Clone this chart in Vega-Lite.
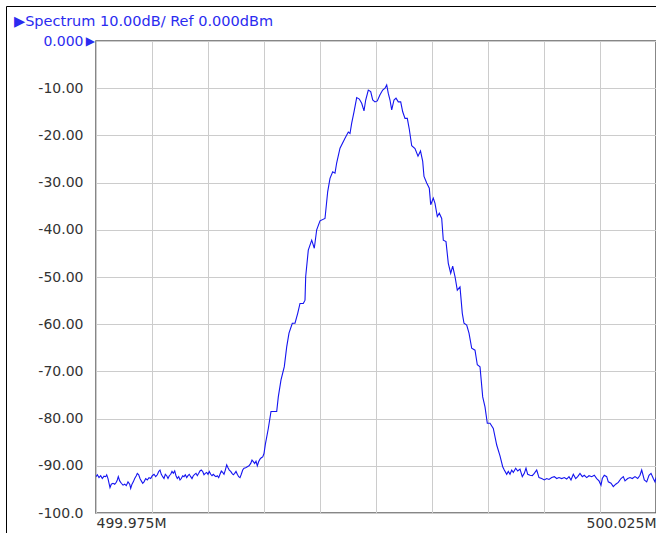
{
  "$schema": "https://vega.github.io/schema/vega-lite/v6.json",
  "width": 560,
  "height": 472,
  "autosize": {"type": "none"},
  "padding": {"left": 96, "top": 41, "right": 0, "bottom": 20},
  "background": "white",
  "title": {
    "text": "▶Spectrum 10.00dB/ Ref 0.000dBm",
    "anchor": "start",
    "frame": "group",
    "dx": -82,
    "dy": 50,
    "offset": 16,
    "baseline": "alphabetic",
    "font": "DejaVu Sans",
    "fontSize": 14.5,
    "fontWeight": "normal",
    "color": "#2b2bf0"
  },
  "config": {
    "view": {"stroke": "#606060", "strokeWidth": 1.5},
    "axis": {
      "domain": false,
      "ticks": false,
      "gridColor": "#cccccc",
      "gridWidth": 1,
      "gridOpacity": 1,
      "labelFont": "DejaVu Sans",
      "labelFontSize": 14,
      "labelColor": "#333333",
      "title": null
    }
  },
  "datasets": {
    "trace": [
      {"freq": 499.975000, "level": -92.3},
      {"freq": 499.975116, "level": -91.9},
      {"freq": 499.975268, "level": -92.5},
      {"freq": 499.975420, "level": -92.1},
      {"freq": 499.975563, "level": -92.7},
      {"freq": 499.975714, "level": -92.2},
      {"freq": 499.975866, "level": -92.3},
      {"freq": 499.975955, "level": -91.9},
      {"freq": 499.976071, "level": -92.7},
      {"freq": 499.976250, "level": -94.6},
      {"freq": 499.976366, "level": -93.9},
      {"freq": 499.976518, "level": -93.7},
      {"freq": 499.976670, "level": -93.9},
      {"freq": 499.976813, "level": -93.5},
      {"freq": 499.976902, "level": -93.0},
      {"freq": 499.976991, "level": -92.3},
      {"freq": 499.977116, "level": -93.2},
      {"freq": 499.977259, "level": -93.7},
      {"freq": 499.977411, "level": -94.1},
      {"freq": 499.977563, "level": -93.9},
      {"freq": 499.977705, "level": -94.2},
      {"freq": 499.977857, "level": -93.4},
      {"freq": 499.978009, "level": -93.9},
      {"freq": 499.978098, "level": -94.8},
      {"freq": 499.978214, "level": -93.9},
      {"freq": 499.978330, "level": -93.4},
      {"freq": 499.978455, "level": -92.7},
      {"freq": 499.978598, "level": -92.1},
      {"freq": 499.978688, "level": -91.6},
      {"freq": 499.978813, "level": -91.9},
      {"freq": 499.978929, "level": -92.7},
      {"freq": 499.979045, "level": -93.2},
      {"freq": 499.979170, "level": -93.7},
      {"freq": 499.979286, "level": -93.4},
      {"freq": 499.979438, "level": -92.7},
      {"freq": 499.979580, "level": -93.0},
      {"freq": 499.979732, "level": -92.5},
      {"freq": 499.979884, "level": -92.7},
      {"freq": 499.980027, "level": -92.1},
      {"freq": 499.980179, "level": -91.8},
      {"freq": 499.980330, "level": -92.3},
      {"freq": 499.980473, "level": -91.9},
      {"freq": 499.980598, "level": -91.2},
      {"freq": 499.980714, "level": -90.9},
      {"freq": 499.980830, "level": -91.8},
      {"freq": 499.980955, "level": -92.3},
      {"freq": 499.981071, "level": -92.7},
      {"freq": 499.981188, "level": -91.8},
      {"freq": 499.981313, "level": -92.1},
      {"freq": 499.981429, "level": -92.7},
      {"freq": 499.981545, "level": -92.1},
      {"freq": 499.981670, "level": -91.8},
      {"freq": 499.981786, "level": -91.2},
      {"freq": 499.981902, "level": -91.6},
      {"freq": 499.982027, "level": -91.1},
      {"freq": 499.982143, "level": -92.1},
      {"freq": 499.982259, "level": -92.7},
      {"freq": 499.982384, "level": -92.3},
      {"freq": 499.982500, "level": -93.0},
      {"freq": 499.982616, "level": -92.7},
      {"freq": 499.982741, "level": -92.1},
      {"freq": 499.982857, "level": -92.3},
      {"freq": 499.982973, "level": -91.9},
      {"freq": 499.983098, "level": -92.5},
      {"freq": 499.983214, "level": -92.1},
      {"freq": 499.983330, "level": -91.8},
      {"freq": 499.983455, "level": -92.3},
      {"freq": 499.983571, "level": -92.7},
      {"freq": 499.983688, "level": -92.1},
      {"freq": 499.983813, "level": -91.8},
      {"freq": 499.983929, "level": -91.6},
      {"freq": 499.984045, "level": -92.1},
      {"freq": 499.984170, "level": -91.6},
      {"freq": 499.984286, "level": -91.1},
      {"freq": 499.984402, "level": -90.9},
      {"freq": 499.984527, "level": -91.2},
      {"freq": 499.984643, "level": -91.9},
      {"freq": 499.984759, "level": -91.6},
      {"freq": 499.984884, "level": -91.4},
      {"freq": 499.985000, "level": -91.8},
      {"freq": 499.985116, "level": -91.2},
      {"freq": 499.985241, "level": -91.8},
      {"freq": 499.985357, "level": -92.1},
      {"freq": 499.985473, "level": -91.8},
      {"freq": 499.985598, "level": -92.1},
      {"freq": 499.985714, "level": -92.3},
      {"freq": 499.985830, "level": -92.1},
      {"freq": 499.985955, "level": -92.5},
      {"freq": 499.986071, "level": -91.8},
      {"freq": 499.986188, "level": -91.1},
      {"freq": 499.986313, "level": -91.4},
      {"freq": 499.986429, "level": -91.8},
      {"freq": 499.986545, "level": -90.9},
      {"freq": 499.986670, "level": -89.8},
      {"freq": 499.986786, "level": -90.4},
      {"freq": 499.986902, "level": -90.9},
      {"freq": 499.987027, "level": -91.2},
      {"freq": 499.987143, "level": -91.6},
      {"freq": 499.987259, "level": -91.9},
      {"freq": 499.987384, "level": -91.6},
      {"freq": 499.987500, "level": -91.2},
      {"freq": 499.987616, "level": -91.8},
      {"freq": 499.987741, "level": -92.3},
      {"freq": 499.987857, "level": -92.5},
      {"freq": 499.987973, "level": -91.8},
      {"freq": 499.988098, "level": -90.9},
      {"freq": 499.988214, "level": -90.5},
      {"freq": 499.988366, "level": -90.4},
      {"freq": 499.988509, "level": -90.2},
      {"freq": 499.988661, "level": -90.0},
      {"freq": 499.988813, "level": -89.5},
      {"freq": 499.988929, "level": -88.8},
      {"freq": 499.989045, "level": -89.1},
      {"freq": 499.989170, "level": -89.5},
      {"freq": 499.989286, "level": -89.0},
      {"freq": 499.989402, "level": -90.0},
      {"freq": 499.989527, "level": -89.1},
      {"freq": 499.989643, "level": -88.6},
      {"freq": 499.989759, "level": -88.3},
      {"freq": 499.989884, "level": -88.1},
      {"freq": 499.990000, "level": -87.4},
      {"freq": 499.990116, "level": -85.5},
      {"freq": 499.990384, "level": -82.1},
      {"freq": 499.990625, "level": -78.5},
      {"freq": 499.991134, "level": -78.5},
      {"freq": 499.991277, "level": -75.4},
      {"freq": 499.991518, "level": -71.8},
      {"freq": 499.991813, "level": -69.0},
      {"freq": 499.992027, "level": -64.8},
      {"freq": 499.992232, "level": -61.9},
      {"freq": 499.992527, "level": -59.8},
      {"freq": 499.992768, "level": -59.8},
      {"freq": 499.993009, "level": -57.7},
      {"freq": 499.993214, "level": -55.6},
      {"freq": 499.993509, "level": -55.6},
      {"freq": 499.993661, "level": -54.9},
      {"freq": 499.993723, "level": -49.9},
      {"freq": 499.993955, "level": -44.3},
      {"freq": 499.994259, "level": -42.2},
      {"freq": 499.994491, "level": -43.9},
      {"freq": 499.994705, "level": -40.0},
      {"freq": 499.995000, "level": -38.1},
      {"freq": 499.995446, "level": -37.6},
      {"freq": 499.995688, "level": -31.9},
      {"freq": 499.995893, "level": -29.1},
      {"freq": 499.996134, "level": -27.7},
      {"freq": 499.996339, "level": -28.0},
      {"freq": 499.996491, "level": -25.8},
      {"freq": 499.996786, "level": -22.7},
      {"freq": 499.997232, "level": -20.6},
      {"freq": 499.997527, "level": -19.3},
      {"freq": 499.997679, "level": -19.6},
      {"freq": 499.997830, "level": -17.4},
      {"freq": 499.998036, "level": -15.0},
      {"freq": 499.998277, "level": -12.0},
      {"freq": 499.998509, "level": -12.3},
      {"freq": 499.998723, "level": -13.2},
      {"freq": 499.998929, "level": -14.8},
      {"freq": 499.999080, "level": -12.5},
      {"freq": 499.999313, "level": -10.4},
      {"freq": 499.999527, "level": -10.7},
      {"freq": 499.999705, "level": -12.5},
      {"freq": 499.999911, "level": -12.9},
      {"freq": 500.000116, "level": -12.7},
      {"freq": 500.000357, "level": -11.4},
      {"freq": 500.000598, "level": -10.4},
      {"freq": 500.000804, "level": -10.0},
      {"freq": 500.000955, "level": -9.3},
      {"freq": 500.001098, "level": -11.1},
      {"freq": 500.001250, "level": -12.5},
      {"freq": 500.001402, "level": -14.6},
      {"freq": 500.001607, "level": -12.5},
      {"freq": 500.001786, "level": -12.1},
      {"freq": 500.001991, "level": -12.9},
      {"freq": 500.002205, "level": -12.9},
      {"freq": 500.002384, "level": -15.0},
      {"freq": 500.002589, "level": -16.4},
      {"freq": 500.002795, "level": -16.4},
      {"freq": 500.002973, "level": -18.7},
      {"freq": 500.003188, "level": -22.2},
      {"freq": 500.003482, "level": -22.8},
      {"freq": 500.003750, "level": -24.4},
      {"freq": 500.003973, "level": -23.3},
      {"freq": 500.004170, "level": -25.5},
      {"freq": 500.004286, "level": -28.7},
      {"freq": 500.004527, "level": -30.1},
      {"freq": 500.004759, "level": -31.2},
      {"freq": 500.004884, "level": -34.7},
      {"freq": 500.005116, "level": -33.3},
      {"freq": 500.005268, "level": -34.4},
      {"freq": 500.005473, "level": -37.2},
      {"freq": 500.005652, "level": -36.5},
      {"freq": 500.005866, "level": -37.6},
      {"freq": 500.006009, "level": -42.2},
      {"freq": 500.006250, "level": -42.5},
      {"freq": 500.006455, "level": -47.1},
      {"freq": 500.006670, "level": -49.2},
      {"freq": 500.006848, "level": -47.7},
      {"freq": 500.007054, "level": -49.9},
      {"freq": 500.007259, "level": -52.8},
      {"freq": 500.007500, "level": -52.1},
      {"freq": 500.007705, "level": -57.7},
      {"freq": 500.007857, "level": -59.8},
      {"freq": 500.008098, "level": -60.2},
      {"freq": 500.008304, "level": -61.9},
      {"freq": 500.008545, "level": -65.1},
      {"freq": 500.008839, "level": -65.5},
      {"freq": 500.009045, "level": -68.6},
      {"freq": 500.009286, "level": -69.0},
      {"freq": 500.009527, "level": -75.4},
      {"freq": 500.009732, "level": -77.5},
      {"freq": 500.009938, "level": -81.0},
      {"freq": 500.010179, "level": -81.0},
      {"freq": 500.010473, "level": -82.1},
      {"freq": 500.010777, "level": -85.6},
      {"freq": 500.011071, "level": -87.9},
      {"freq": 500.011313, "level": -90.2},
      {"freq": 500.011455, "level": -90.9},
      {"freq": 500.011670, "level": -91.8},
      {"freq": 500.011813, "level": -91.2},
      {"freq": 500.011964, "level": -91.8},
      {"freq": 500.012116, "level": -90.9},
      {"freq": 500.012259, "level": -91.4},
      {"freq": 500.012473, "level": -90.5},
      {"freq": 500.012652, "level": -91.1},
      {"freq": 500.012857, "level": -90.7},
      {"freq": 500.013063, "level": -92.3},
      {"freq": 500.013241, "level": -91.6},
      {"freq": 500.013393, "level": -90.5},
      {"freq": 500.013545, "level": -91.8},
      {"freq": 500.013750, "level": -92.0},
      {"freq": 500.013955, "level": -92.1},
      {"freq": 500.014134, "level": -91.6},
      {"freq": 500.014348, "level": -90.9},
      {"freq": 500.014554, "level": -92.5},
      {"freq": 500.014795, "level": -92.7},
      {"freq": 500.015027, "level": -93.0},
      {"freq": 500.015241, "level": -92.7},
      {"freq": 500.015446, "level": -92.9},
      {"freq": 500.015688, "level": -92.5},
      {"freq": 500.015920, "level": -92.3},
      {"freq": 500.016134, "level": -92.7},
      {"freq": 500.016339, "level": -92.5},
      {"freq": 500.016580, "level": -92.7},
      {"freq": 500.016813, "level": -92.5},
      {"freq": 500.017027, "level": -92.8},
      {"freq": 500.017232, "level": -92.3},
      {"freq": 500.017411, "level": -93.0},
      {"freq": 500.017616, "level": -91.8},
      {"freq": 500.017830, "level": -92.7},
      {"freq": 500.018009, "level": -92.3},
      {"freq": 500.018214, "level": -91.6},
      {"freq": 500.018420, "level": -92.3},
      {"freq": 500.018598, "level": -92.0},
      {"freq": 500.018813, "level": -92.5},
      {"freq": 500.019018, "level": -92.1},
      {"freq": 500.019259, "level": -92.3},
      {"freq": 500.019491, "level": -92.0},
      {"freq": 500.019705, "level": -92.7},
      {"freq": 500.019911, "level": -93.2},
      {"freq": 500.020089, "level": -94.1},
      {"freq": 500.020205, "level": -92.7},
      {"freq": 500.020384, "level": -92.0},
      {"freq": 500.020598, "level": -92.3},
      {"freq": 500.020741, "level": -93.4},
      {"freq": 500.020982, "level": -93.7},
      {"freq": 500.021188, "level": -94.4},
      {"freq": 500.021402, "level": -93.9},
      {"freq": 500.021634, "level": -93.5},
      {"freq": 500.021875, "level": -92.7},
      {"freq": 500.022080, "level": -92.3},
      {"freq": 500.022232, "level": -93.2},
      {"freq": 500.022473, "level": -92.7},
      {"freq": 500.022679, "level": -92.5},
      {"freq": 500.022884, "level": -92.7},
      {"freq": 500.023125, "level": -92.3},
      {"freq": 500.023366, "level": -92.7},
      {"freq": 500.023571, "level": -92.0},
      {"freq": 500.023723, "level": -90.9},
      {"freq": 500.023955, "level": -93.0},
      {"freq": 500.024170, "level": -93.4},
      {"freq": 500.024375, "level": -92.0},
      {"freq": 500.024554, "level": -91.6},
      {"freq": 500.024759, "level": -92.7},
      {"freq": 500.024911, "level": -93.4},
      {"freq": 500.025000, "level": -92.5}
    ]
  },
  "layer": [
    {
      "data": {"name": "trace"},
      "mark": {"type": "line", "color": "#1414f0", "strokeWidth": 1.1, "clip": true},
      "encoding": {
        "x": {
          "field": "freq",
          "type": "quantitative",
          "scale": {"domain": [499.975, 500.025], "nice": false, "zero": false},
          "axis": {
            "values": [499.975, 499.98, 499.985, 499.99, 499.995, 500.0, 500.005, 500.01, 500.015, 500.02, 500.025],
            "labelExpr": "datum.value < 499.976 || datum.value > 500.024 ? format(datum.value, '.3f') + 'M' : ''",
            "labelFlush": true,
            "labelOverlap": false,
            "labelBound": false,
            "labelPadding": 3,
            "labelBaseline": "top",
            "title": null
          }
        },
        "y": {
          "field": "level",
          "type": "quantitative",
          "scale": {"domain": [-100, 0], "nice": false, "zero": false},
          "axis": {
            "values": [0, -10, -20, -30, -40, -50, -60, -70, -80, -90, -100],
            "labelExpr": "datum.value == 0 ? '0.000' : (datum.value == -100 ? '-100.0' : '-' + format(-datum.value, '.2f'))",
            "labelColor": {"condition": {"test": "datum.value == 0", "value": "#2b2bf0"}, "value": "#333333"},
            "labelPadding": 13,
            "labelOverlap": false,
            "labelBound": false,
            "labelFlush": false,
            "title": null
          }
        }
      }
    },
    {
      "data": {"values": [{"marker": "ref"}]},
      "mark": {"type": "text", "text": "▶", "align": "right", "baseline": "middle", "dx": -1, "fontSize": 12, "font": "DejaVu Sans", "color": "#2b2bf0", "clip": false},
      "encoding": {
        "x": {"datum": 499.975, "type": "quantitative", "title": null},
        "y": {"datum": 0, "type": "quantitative", "title": null}
      }
    },
    {
      "data": {"values": [{"frame": "top"}]},
      "mark": {"type": "rule", "color": "#000000", "strokeWidth": 1, "clip": false},
      "encoding": {
        "x": {"datum": 499.967009, "type": "quantitative", "title": null},
        "x2": {"datum": 500.025},
        "y": {"datum": 7.309, "type": "quantitative", "title": null}
      }
    },
    {
      "data": {"values": [{"frame": "left"}]},
      "mark": {"type": "rule", "color": "#000000", "strokeWidth": 1, "clip": false},
      "encoding": {
        "x": {"datum": 499.967009, "type": "quantitative", "title": null},
        "y": {"datum": 7.309, "type": "quantitative", "title": null},
        "y2": {"datum": -104.24}
      }
    }
  ]
}
